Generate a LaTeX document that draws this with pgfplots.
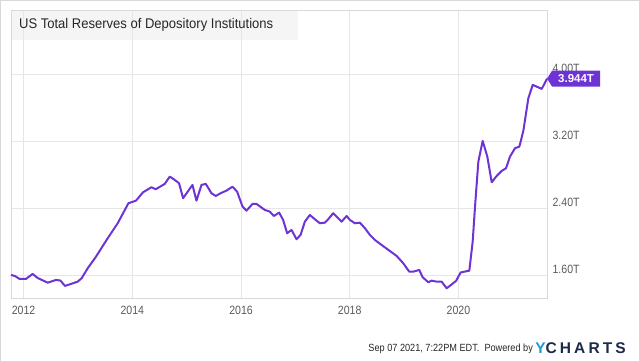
\documentclass[border=0pt]{standalone}
\usepackage{pgfplots}
\pgfplotsset{compat=1.18}
\usepackage{fontspec}
\setmainfont{Liberation Sans}
\newfontfamily\logofont[LetterSpace=20]{Liberation Sans}
\newfontfamily\titlefont[FakeStretch=0.93]{Liberation Sans}
\newfontfamily\narrowfont[FakeStretch=0.88]{Liberation Sans}
\definecolor{lineP}{HTML}{6E33D4}
\definecolor{gridc}{HTML}{E6E6E6}
\definecolor{framec}{HTML}{D9D9D9}
\definecolor{tickc}{HTML}{5A5A5A}
\definecolor{ycblue}{HTML}{1C9AD6}
\definecolor{ycnavy}{HTML}{1B2A48}
\begin{document}
\begin{tikzpicture}[x=1pt,y=1pt]
\draw[framec, line width=0.8pt] (0.5,0.5) rectangle (639.5,361.5);
\fill[black!4] (11,322) rectangle (298,352);
\begin{axis}[
  at={(11pt,64pt)}, anchor=south west,
  scale only axis, width=536pt, height=288pt,
  xmin=2011.766, xmax=2021.632, ymin=1.325, ymax=4.764,
  axis line style={draw=framec, line width=0.8pt},
  grid=major, major grid style={draw=gridc, line width=0.8pt},
  major tick length=0pt,
  xtick={2012,2014,2016,2018,2020},
  ytick={1.6,2.4,3.2,4.0},
  /pgf/number format/assume math mode=true,
  /pgf/number format/1000 sep={},
  xticklabel style={font=\narrowfont\fontsize{12}{13}\selectfont, text=tickc, yshift=-5pt},
  yticklabel pos=right,
  yticklabel style={font=\narrowfont\fontsize{12}{13}\selectfont, text=tickc, anchor=west, xshift=2pt, yshift=6pt},
  yticklabel={\pgfmathprintnumber[fixed,fixed zerofill,precision=2]{\tick}T},
  clip=false,
]
\addplot[lineP, line width=2pt, line join=round] coordinates {
(2011.766,1.600) (2011.840,1.588) (2011.926,1.552) (2012.042,1.552) (2012.166,1.612)
(2012.258,1.564) (2012.442,1.508) (2012.595,1.540) (2012.676,1.534) (2012.761,1.469)
(2012.994,1.520) (2013.068,1.561) (2013.179,1.680) (2013.331,1.818) (2013.547,2.038)
(2013.731,2.217) (2013.928,2.456) (2014.068,2.487) (2014.197,2.587) (2014.352,2.647)
(2014.431,2.623) (2014.597,2.687) (2014.689,2.774) (2014.781,2.734) (2014.860,2.695)
(2014.934,2.516) (2015.107,2.675) (2015.180,2.487) (2015.273,2.675) (2015.352,2.687)
(2015.457,2.575) (2015.536,2.543) (2015.622,2.575) (2015.733,2.607) (2015.843,2.654)
(2015.928,2.595) (2016.028,2.416) (2016.101,2.368) (2016.212,2.448) (2016.285,2.448)
(2016.438,2.376) (2016.530,2.356) (2016.604,2.304) (2016.702,2.344) (2016.775,2.257)
(2016.849,2.098) (2016.930,2.137) (2017.022,2.026) (2017.096,2.078) (2017.175,2.236)
(2017.267,2.316) (2017.359,2.265) (2017.451,2.217) (2017.543,2.224) (2017.604,2.265)
(2017.696,2.337) (2017.770,2.289) (2017.851,2.236) (2017.943,2.304) (2018.004,2.257)
(2018.096,2.217) (2018.188,2.224) (2018.280,2.158) (2018.372,2.078) (2018.464,2.018)
(2018.587,1.958) (2018.864,1.827) (2018.985,1.740) (2019.096,1.639) (2019.169,1.639)
(2019.280,1.660) (2019.342,1.573) (2019.446,1.513) (2019.508,1.532) (2019.600,1.520)
(2019.692,1.520) (2019.784,1.441) (2019.864,1.481) (2019.956,1.528) (2020.042,1.630)
(2020.201,1.651) (2020.263,1.998) (2020.306,2.415) (2020.367,2.953) (2020.447,3.200)
(2020.532,3.013) (2020.613,2.707) (2020.705,2.782) (2020.797,2.842) (2020.876,2.874)
(2020.950,3.013) (2021.042,3.113) (2021.122,3.132) (2021.195,3.319) (2021.287,3.710)
(2021.368,3.869) (2021.534,3.821) (2021.632,3.944)
};
\coordinate (tip) at (axis cs:2021.632,3.944);
\end{axis}
\fill[lineP] (tip) -- ++(5,8) -- ++(48,0) -- ++(0,-16) -- ++(-48,0) -- cycle;
\node[text=white, font=\bfseries\fontsize{11.5}{12}\selectfont, inner sep=0pt] at ([xshift=29pt]tip) {3.944T};
\node[anchor=west, inner sep=0pt, font=\titlefont\fontsize{14}{15}\selectfont, text=black!85] at (19,337) {US Total Reserves of Depository Institutions};
\node[anchor=east, inner sep=0pt, font=\narrowfont\fontsize{10.4}{11}\selectfont, text=black!85] at (533,13) {Sep 07 2021, 7:22PM EDT.\ \ Powered by};
\node[anchor=west, inner sep=0pt, font=\logofont\bfseries\fontsize{15.5}{16}\selectfont] at (535,13.5) {\textcolor{ycblue}{Y}\textcolor{ycnavy}{CHARTS}};
\end{tikzpicture}
\end{document}
